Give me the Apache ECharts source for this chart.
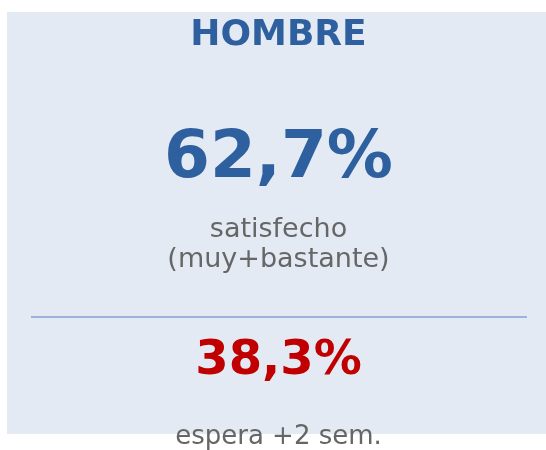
<!DOCTYPE html>
<html>
<head>
<meta charset="utf-8">
<script src="https://cdn.jsdelivr.net/npm/echarts@6/dist/echarts.min.js"></script>
<style>
html,body{margin:0;padding:0;background:#fff;}
#chart{width:546px;height:450px;}
</style>
</head>
<body>
<div id="chart"></div>
<script>
var titleText = ['HOMBRE'];
var mainValue = [62.7];
var mainLabels = ['satisfecho', '(muy+bastante)'];
var secondValue = [38.3];
var secondLabels = ['espera +2 sem.'];

function fmt(v){ return v.toFixed(1).replace('.', ',') + '%'; }

var chart = echarts.init(document.getElementById('chart'), null, {renderer:'canvas'});
var cx = 278.5;
chart.setOption({
  animation: false,
  graphic: [
    {type:'rect', shape:{x:7, y:12, width:543, height:422}, style:{fill:'#E4EAF3'}, z:0},
    {type:'text', x:cx, y:36, style:{text:titleText[0], font:'bold 36px "DejaVu Sans"', fill:'#2E5F9F', align:'center', verticalAlign:'middle'}, z:2},
    {type:'text', x:cx, y:159.5, style:{text:fmt(mainValue[0]), font:'bold 66px "DejaVu Sans"', fill:'#2E5F9F', align:'center', verticalAlign:'middle'}, z:2},
    {type:'text', x:cx, y:229.5, style:{text:mainLabels[0], font:'27px "DejaVu Sans"', fill:'#666666', align:'center', verticalAlign:'middle'}, z:2},
    {type:'text', x:cx, y:260, style:{text:mainLabels[1], font:'27px "DejaVu Sans"', fill:'#666666', align:'center', verticalAlign:'middle'}, z:2},
    {type:'line', shape:{x1:31, y1:317, x2:527, y2:317}, style:{stroke:'#9BB4D8', lineWidth:2}, z:2},
    {type:'text', x:cx, y:362, style:{text:fmt(secondValue[0]), font:'bold 48px "DejaVu Sans"', fill:'#C00000', align:'center', verticalAlign:'middle'}, z:2},
    {type:'text', x:cx, y:437, style:{text:secondLabels[0], font:'26px "DejaVu Sans"', fill:'#666666', align:'center', verticalAlign:'middle'}, z:2}
  ]
});
</script>
</body>
</html>
